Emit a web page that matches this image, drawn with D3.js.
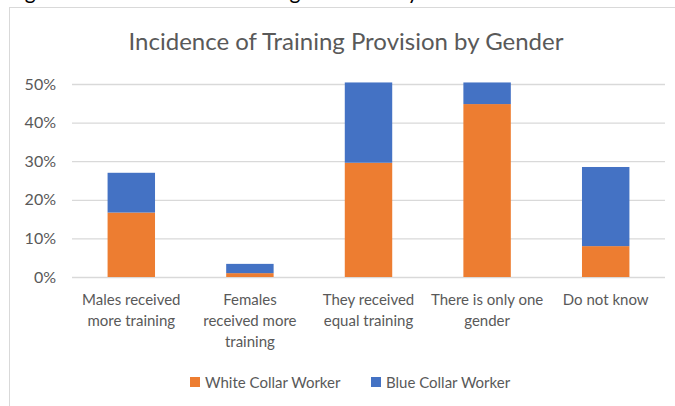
<!DOCTYPE html>
<html>
<head>
<meta charset="utf-8">
<script src="https://cdn.jsdelivr.net/npm/d3@7"></script>
<style>
  body { margin: 0; background: #fff; }
  text { font-family: Lato, "Open Sans", sans-serif; }
</style>
</head>
<body>
<div id="chart"></div>
<script>
// chart data
var categories = ["Males received\nmore training", "Females\nreceived more\ntraining",
    "They received\nequal training", "There is only one\ngender", "Do not know"];
var whiteCollar = [16.7, 1.0, 29.6, 44.8, 8.0];
var blueCollar = [10.3, 2.4, 20.8, 5.6, 20.5];
var seriesNames = ["White Collar Worker", "Blue Collar Worker"];
var seriesColors = ["#ED7D31", "#4472C4"];
var yTicks = [0, 10, 20, 30, 40, 50];

var svgWidth = 675;
var svgHeight = 406;

var margin = { top: 84, right: 10, bottom: 129, left: 72 };
var chartWidth = svgWidth - margin.left - margin.right;
var chartHeight = svgHeight - margin.top - margin.bottom;

var svg = d3.select("#chart")
    .append("svg")
    .attr("width", svgWidth)
    .attr("height", svgHeight);

// cut-off figure caption above the chart box
svg.append("text")
    .attr("x", 8)
    .attr("y", -1)
    .style("font-size", "21px")
    .style("fill", "#000")
    .text("Figure 4.3: Incidence of Training Provision by Gender");

// chart area border
svg.append("rect")
    .attr("x", 9.5)
    .attr("y", 7.5)
    .attr("width", 700)
    .attr("height", 420)
    .attr("fill", "#fff")
    .attr("stroke", "#d9d9d9");

svg.append("text")
    .attr("x", 346)
    .attr("y", 50)
    .attr("text-anchor", "middle")
    .style("font-size", "24px")
    .style("fill", "#595959")
    .text("Incidence of Training Provision by Gender");

var chart = svg.append("g").attr("transform", `translate(${margin.left},${margin.top})`);

var xScale = d3.scaleBand()
    .domain(categories)
    .range([0, chartWidth])
    .paddingInner(0.6)
    .paddingOuter(0.3);

var yScale = d3.scaleLinear()
    .domain([0, 50])
    .range([chartHeight, 0]);

// gridlines
chart.append("g")
    .call(d3.axisLeft(yScale).tickValues(yTicks).tickSize(-chartWidth).tickFormat(function(d) { return d + "%"; }))
    .call(function(g) {
        g.select(".domain").remove();
        g.selectAll(".tick line").attr("stroke", "#d9d9d9").attr("stroke-width", 1.3);
        g.selectAll(".tick text")
            .attr("x", -16)
            .style("font-size", "16px")
            .style("font-family", "Lato, sans-serif")
            .style("fill", "#595959");
    });

// stacked bars
var stacked = categories.map(function(c, i) {
    return { cat: c, white: whiteCollar[i], blue: blueCollar[i] };
});
var stack = d3.stack().keys(["white", "blue"])(stacked);

chart.selectAll(".series")
    .data(stack)
    .enter()
    .append("g")
    .attr("fill", function(d, i) { return seriesColors[i]; })
    .selectAll("rect")
    .data(function(d) { return d; })
    .enter()
    .append("rect")
    .attr("x", function(d) { return xScale(d.data.cat); })
    .attr("width", xScale.bandwidth())
    .attr("y", function(d) { return yScale(d[1]); })
    .attr("height", function(d) { return yScale(d[0]) - yScale(d[1]); });

// category labels
var xAxis = chart.append("g")
    .attr("transform", `translate(0, ${chartHeight})`);

categories.forEach(function(c) {
    var t = xAxis.append("text")
        .attr("text-anchor", "middle")
        .style("font-size", "15px")
        .style("fill", "#595959");
    c.split("\n").forEach(function(line, j) {
        t.append("tspan")
            .attr("x", xScale(c) + xScale.bandwidth() / 2)
            .attr("y", 28 + j * 21)
            .text(line);
    });
});

// legend
var legend = svg.append("g").attr("transform", "translate(190, 377)");
var legendX = [0, 181];
seriesNames.forEach(function(name, i) {
    legend.append("rect")
        .attr("x", legendX[i])
        .attr("y", 0)
        .attr("width", 10)
        .attr("height", 10)
        .attr("fill", seriesColors[i]);
    legend.append("text")
        .attr("x", legendX[i] + 15)
        .attr("y", 10.5)
        .style("font-size", "15px")
        .style("fill", "#595959")
        .text(name);
});
</script>
</body>
</html>
